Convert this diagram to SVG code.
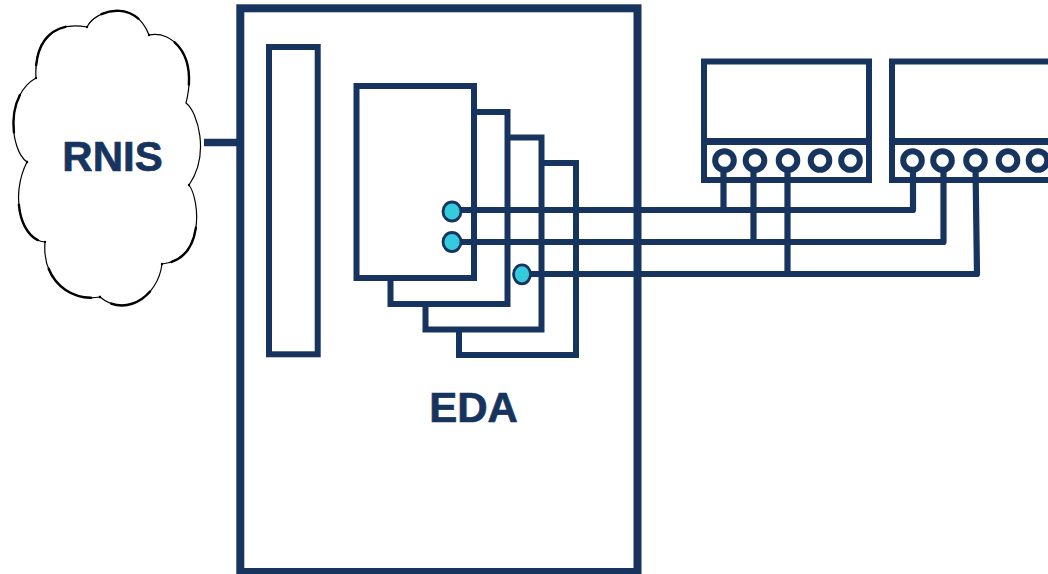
<svg xmlns="http://www.w3.org/2000/svg" width="1048" height="574" viewBox="0 0 1048 574">
<style>
.b{fill:none;stroke:#17345f;stroke-width:6}
.w{fill:#fff;stroke:#17345f;stroke-width:6}
.l{fill:none;stroke:#17345f;stroke-width:6.200;stroke-linejoin:round}
.p{fill:#fff;stroke:#17345f;stroke-width:6}
.d{fill:#35cadc;stroke:#17345f;stroke-width:2.800}
.t{font-family:"Liberation Sans",Arial,Helvetica,sans-serif;font-weight:700;font-size:42px;fill:#17345f;stroke:#17345f;stroke-width:.7;text-anchor:middle}
.c{fill:none;stroke:#000;stroke-width:2.400;stroke-linecap:round}
</style>
<rect width="1048" height="574" fill="#fff"/>
<g id="cloud-rnis">
<path d="M36 78C34 45 50 20 87 27C95 10 135 -2 149 35C172 30 198 55 186 103C198 112 210 155 189 185C200 200 205 260 162 264C158 297 125 318 100 297C70 302 42 280 45 242C20 240 10 195 27 162C10 150 5 95 36 78Z" fill="#fff" stroke="#000" stroke-width="1.200"/>
<path class="c" pathLength="100" stroke-dasharray="0 15 60 25" d="M36 78C34 45 50 20 87 27"/>
<path class="c" pathLength="100" stroke-dasharray="0 25 50 25" d="M87 27C95 10 135 -2 149 35"/>
<path class="c" pathLength="100" stroke-dasharray="0 30 50 20" d="M149 35C172 30 198 55 186 103"/>
<path class="c" pathLength="100" stroke-dasharray="0 45 45 10" d="M189 185C200 200 205 260 162 264"/>
<path class="c" pathLength="100" stroke-dasharray="0 35 50 15" d="M162 264C158 297 125 318 100 297"/>
<path class="c" pathLength="100" stroke-dasharray="0 10 60 30" d="M100 297C70 302 42 280 45 242"/>
<path class="c" pathLength="100" stroke-dasharray="0 8 45 47" d="M45 242C20 240 10 195 27 162"/>
<path class="c" pathLength="100" stroke-dasharray="0 35 40 25" d="M27 162C10 150 5 95 36 78"/>
<text class="t" x="112.500" y="171">RNIS</text>
</g>
<g id="eda">
<rect x="240.300" y="8.300" width="397.200" height="563.700" fill="#fff" stroke="#17345f" stroke-width="8"/>
<text class="t" x="473.500" y="422">EDA</text>
</g>
<g id="slot"><rect class="w" x="269" y="47" width="48.700" height="307.300"/></g>
<g id="card-4"><rect class="w" x="459" y="163" width="117" height="192"/></g>
<g id="card-3"><rect class="w" x="425.500" y="137.500" width="116" height="192"/></g>
<g id="card-2"><rect class="w" x="390.500" y="112" width="117" height="192"/></g>
<g id="card-1"><rect class="w" x="356.500" y="86" width="117.500" height="192"/></g>
<g id="device-1">
<rect class="w" x="704" y="61.500" width="165" height="118.500"/>
<path d="M704 141.500H869" fill="none" stroke="#17345f" stroke-width="7"/>
</g>
<g id="device-2">
<path class="w" d="M1052 61.500H892V180H1052"/>
<path d="M892 141.500H1052" fill="none" stroke="#17345f" stroke-width="7"/>
</g>
<g id="connectors">
<path d="M204 142.500H240" fill="none" stroke="#17345f" stroke-width="7.500"/>
<path class="l" d="M455 210H913V165"/>
<path class="l" d="M455 242H943.500V165"/>
<path class="l" d="M525 274H977L975.500 165"/>
<path class="l" d="M723.500 165V210M753.500 165V242M787.500 165V274"/>
</g>
<g id="ports-1">
<circle class="p" cx="724.500" cy="160.500" r="9.300"/><circle class="p" cx="755" cy="160.500" r="9.300"/><circle class="p" cx="788" cy="160.500" r="9.300"/><circle class="p" cx="820" cy="160.500" r="9.300"/><circle class="p" cx="850.500" cy="160.500" r="9.300"/>
</g>
<g id="ports-2">
<circle class="p" cx="912.500" cy="160.500" r="9.300"/><circle class="p" cx="942.500" cy="160.500" r="9.300"/><circle class="p" cx="975.500" cy="160.500" r="9.300"/><circle class="p" cx="1008" cy="160.500" r="9.300"/><circle class="p" cx="1038" cy="160.500" r="9.300"/>
</g>
<g id="terminals">
<ellipse class="d" cx="452" cy="211.500" rx="9" ry="9.500"/>
<ellipse class="d" cx="452" cy="242" rx="9" ry="9.500"/>
<ellipse class="d" cx="522" cy="274.300" rx="8.500" ry="9.500"/>
</g>
</svg>
